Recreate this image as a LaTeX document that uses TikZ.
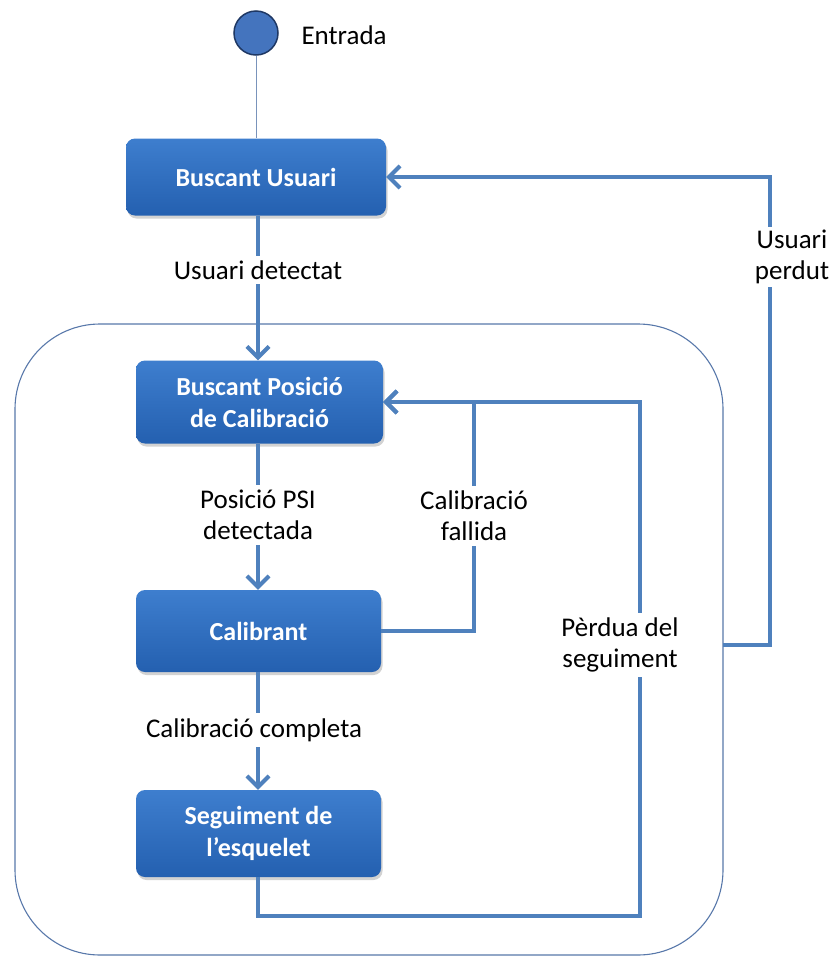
\documentclass[tikz,border=0pt]{standalone}
\usepackage{fontspec}
\setmainfont{Carlito}
\usetikzlibrary{arrows.meta,shadows}

\definecolor{connblue}{RGB}{79,129,189}
\definecolor{boxtop}{RGB}{62,126,206}
\definecolor{boxbot}{RGB}{36,96,176}
\definecolor{startfill}{RGB}{68,116,190}
\definecolor{startedge}{RGB}{31,56,100}
\definecolor{frameedge}{RGB}{88,120,170}

\begin{document}
\begin{tikzpicture}[x=1pt,y=-1pt,
  statebox/.style={rectangle, rounded corners=9pt, top color=boxtop, bottom color=boxbot,
    draw=none, text=white, font=\fontsize{26}{32}\selectfont\bfseries, align=center,
    drop shadow={opacity=0.35, shadow xshift=1.5pt, shadow yshift=-3pt}},
  conn/.style={draw=connblue, line width=4.5pt},
  arr/.style={-{Straight Barb[length=11pt,width=22pt,line width=4pt]}},
  lbl/.style={fill=white, inner sep=5pt, align=center, font=\fontsize{27}{31}\selectfont},
  frame/.style={draw=frameedge, line width=1.1pt, rounded corners=85pt, fill=white},
]
\useasboundingbox (0,0) rectangle (835,956);

% group frame around the tracking states
\node[frame, minimum width=708pt, minimum height=631pt, inner sep=0pt] (cont) at (369,639.5) {};

% initial state
\node[circle, fill=startfill, draw=startedge, line width=1.5pt, minimum size=44pt, inner sep=0pt] (st) at (256,33) {};
\node[anchor=west, font=\fontsize{27}{31}\selectfont] (entrada) at (298,35) {Entrada};

% states
\node[statebox, minimum width=260pt, minimum height=77pt] (b1) at (256,177) {Buscant Usuari};
\node[statebox, minimum width=247pt, minimum height=83pt] (b2) at (259.5,402) {Buscant Posició\\de Calibració};
\node[statebox, minimum width=245pt, minimum height=82pt] (b3) at (258.5,631) {Calibrant};
\node[statebox, minimum width=245pt, minimum height=87pt] (b4) at (258.5,833.5) {Seguiment de\\l’esquelet};

\coordinate (lost) at (723,645);

% transitions
\draw[draw=frameedge!80, line width=0.9pt] (st) -- (st |- b1.north);
\draw[conn, arr] (b1.south -| 258,0) -- (b2.north -| 258,0);
\draw[conn, arr] (b2.south -| 258,0) -- (b3.north -| 258,0);
\draw[conn, arr] (b3.south -| 258,0) -- (b4.north -| 258,0);
\draw[conn, arr] (b3.east) -| (474,402) -- (b2.east);
\draw[conn, arr] (b4.south -| 258,0) |- (640,916) |- (b2.east);
\draw[conn, arr] (lost) -- (770,645) |- (b1.east);

% transition labels
\node[lbl] (l1) at (258,270) {Usuari detectat};
\node[lbl] (l2) at (258,515) {Posició PSI\\detectada};
\node[lbl] (l3) at (474,516) {Calibració\\fallida};
\node[lbl] (l4) at (254,730) {Calibració completa};
\node[lbl] (l5) at (620,645) {Pèrdua del\\seguiment};
\node[lbl, inner sep=3pt] (l6) at (792,257) {Usuari\\perdut};
\end{tikzpicture}
\end{document}
